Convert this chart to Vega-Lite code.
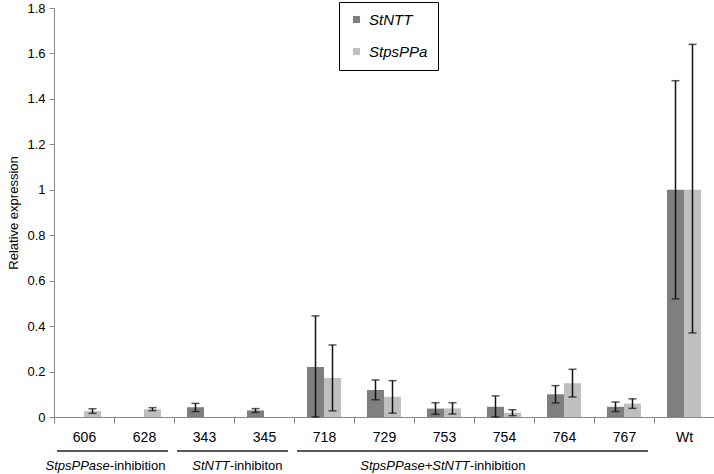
{
  "$schema": "https://vega.github.io/schema/vega-lite/v6.json",
  "width": 660,
  "height": 409,
  "autosize": "none",
  "padding": {"left": 54, "top": 8, "right": 0, "bottom": 57},
  "config": {
    "font": "Liberation Sans",
    "view": {"stroke": null},
    "axisX": {"labelFontSize": 14, "labelColor": "#000", "labelAngle": 0, "labelPadding": 7, "tickBand": "extent", "tickSize": 6, "tickColor": "#888", "domainColor": "#888", "grid": false, "title": null},
    "axisY": {"labelFontSize": 13, "labelColor": "#000", "tickSize": 5, "tickColor": "#888", "domainColor": "#888", "grid": false, "titleFontSize": 13, "titleFontWeight": "normal", "titleColor": "#000", "titlePadding": 6, "labelPadding": 4}
  },
  "datasets": {
    "expr": [
      {"cat": "606", "series": "StpsPPa", "value": 0.026, "lo": 0.016, "hi": 0.036},
      {"cat": "628", "series": "StpsPPa", "value": 0.034, "lo": 0.028, "hi": 0.041},
      {"cat": "343", "series": "StNTT", "value": 0.043, "lo": 0.024, "hi": 0.06},
      {"cat": "345", "series": "StNTT", "value": 0.029, "lo": 0.02, "hi": 0.037},
      {"cat": "718", "series": "StNTT", "value": 0.22, "lo": 0, "hi": 0.445},
      {"cat": "718", "series": "StpsPPa", "value": 0.172, "lo": 0.027, "hi": 0.317},
      {"cat": "729", "series": "StNTT", "value": 0.119, "lo": 0.076, "hi": 0.163},
      {"cat": "729", "series": "StpsPPa", "value": 0.089, "lo": 0.017, "hi": 0.16},
      {"cat": "753", "series": "StNTT", "value": 0.037, "lo": 0.012, "hi": 0.063},
      {"cat": "753", "series": "StpsPPa", "value": 0.038, "lo": 0.013, "hi": 0.063},
      {"cat": "754", "series": "StNTT", "value": 0.045, "lo": 0, "hi": 0.093},
      {"cat": "754", "series": "StpsPPa", "value": 0.019, "lo": 0.006, "hi": 0.032},
      {"cat": "764", "series": "StNTT", "value": 0.1, "lo": 0.062, "hi": 0.138},
      {"cat": "764", "series": "StpsPPa", "value": 0.149, "lo": 0.088, "hi": 0.21},
      {"cat": "767", "series": "StNTT", "value": 0.045, "lo": 0.024, "hi": 0.066},
      {"cat": "767", "series": "StpsPPa", "value": 0.059, "lo": 0.038, "hi": 0.08},
      {"cat": "Wt", "series": "StNTT", "value": 1, "lo": 0.52, "hi": 1.48},
      {"cat": "Wt", "series": "StpsPPa", "value": 1, "lo": 0.37, "hi": 1.64}
    ],
    "groups": [
      {"first": "606", "last": "628", "mid": "606", "ital": "StpsPPase", "plain": "-inhibition"},
      {"first": "343", "last": "345", "mid": "343", "ital": "StNTT", "plain": "-inhibiton"},
      {"first": "718", "last": "767", "mid": "753", "ital": "StpsPPase+StNTT", "plain": "-inhibition"}
    ]
  },
  "layer": [
    {
      "data": {"name": "expr"},
      "mark": {"type": "bar"},
      "encoding": {
        "x": {"field": "cat", "type": "nominal", "sort": null, "scale": {"domain": ["606", "628", "343", "345", "718", "729", "753", "754", "764", "767", "Wt"], "paddingInner": 0, "paddingOuter": 0}, "axis": {"title": null}},
        "xOffset": {"field": "series", "type": "nominal", "scale": {"domain": ["StNTT", "StpsPPa"], "paddingInner": 0, "paddingOuter": 0.765}},
        "y": {"field": "value", "type": "quantitative", "title": "Relative expression", "scale": {"domain": [0, 1.8], "nice": false, "zero": true}, "axis": {"values": [0, 0.2, 0.4, 0.6, 0.8, 1, 1.2, 1.4, 1.6, 1.8], "format": "~g", "title": "Relative expression"}},
        "color": {"field": "series", "type": "nominal", "scale": {"domain": ["StNTT", "StpsPPa"], "range": ["#7f7f7f", "#bfbfbf"]}, "legend": {"orient": "none", "legendX": 285, "legendY": -6, "title": null, "strokeColor": "#000", "fillColor": "#fff", "padding": 10, "symbolType": "square", "symbolSize": 50, "symbolStrokeWidth": 0, "labelFontSize": 15, "labelFontStyle": "italic", "labelColor": "#000", "rowPadding": 16, "labelOffset": 5, "direction": "vertical"}}
      }
    },
    {
      "data": {"name": "expr"},
      "mark": {"type": "rule", "color": "#111", "strokeWidth": 1.5},
      "encoding": {
        "x": {"field": "cat", "type": "nominal", "sort": null, "axis": {"title": null}},
        "xOffset": {"field": "series", "type": "nominal"},
        "y": {"field": "lo", "type": "quantitative", "title": "Relative expression"},
        "y2": {"field": "hi"}
      }
    },
    {
      "data": {"name": "expr"},
      "mark": {"type": "tick", "color": "#111", "size": 8, "thickness": 1.5},
      "encoding": {
        "x": {"field": "cat", "type": "nominal", "sort": null, "axis": {"title": null}},
        "xOffset": {"field": "series", "type": "nominal"},
        "y": {"field": "lo", "type": "quantitative", "title": "Relative expression"}
      }
    },
    {
      "data": {"name": "expr"},
      "mark": {"type": "tick", "color": "#111", "size": 8, "thickness": 1.5},
      "encoding": {
        "x": {"field": "cat", "type": "nominal", "sort": null, "axis": {"title": null}},
        "xOffset": {"field": "series", "type": "nominal"},
        "y": {"field": "hi", "type": "quantitative", "title": "Relative expression"}
      }
    },
    {
      "data": {"name": "groups"},
      "mark": {"type": "rule", "color": "#222", "strokeWidth": 1.5, "yOffset": 34},
      "encoding": {
        "x": {"field": "first", "type": "nominal", "sort": null, "bandPosition": 0.05, "axis": {"title": null}},
        "x2": {"field": "last", "bandPosition": 0.9},
        "y": {"datum": 0, "type": "quantitative", "title": "Relative expression"}
      }
    },
    {
      "data": {"name": "groups"},
      "mark": {"type": "text", "align": "right", "baseline": "middle", "yOffset": 49, "fontSize": 13, "fontStyle": "italic", "color": "#000"},
      "encoding": {
        "x": {"field": "mid", "type": "nominal", "sort": null, "bandPosition": 0.93, "axis": {"title": null}},
        "y": {"datum": 0, "type": "quantitative", "title": "Relative expression"},
        "text": {"field": "ital"}
      }
    },
    {
      "data": {"name": "groups"},
      "mark": {"type": "text", "align": "left", "baseline": "middle", "yOffset": 49, "fontSize": 13, "color": "#000"},
      "encoding": {
        "x": {"field": "mid", "type": "nominal", "sort": null, "bandPosition": 0.93, "axis": {"title": null}},
        "y": {"datum": 0, "type": "quantitative", "title": "Relative expression"},
        "text": {"field": "plain"}
      }
    }
  ]
}
